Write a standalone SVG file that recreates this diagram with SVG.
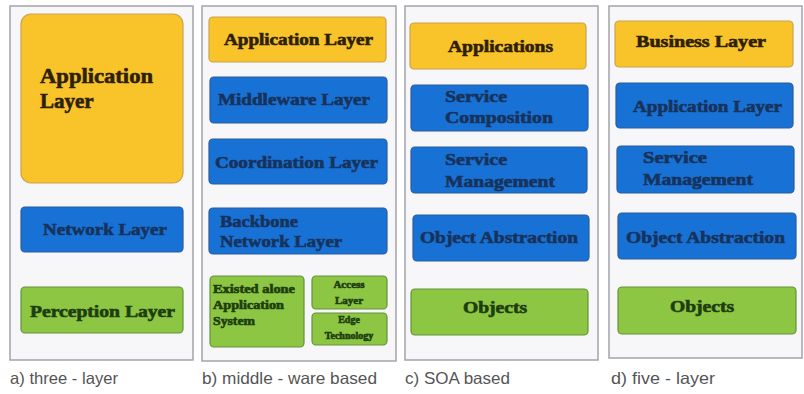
<svg xmlns="http://www.w3.org/2000/svg" width="804" height="394" viewBox="0 0 804 394">
<style>
.frame{fill:#f7f7f9;stroke:#a3a3ab;stroke-width:1.5}
.y{fill:#f9c32a;stroke:#c9a24e;stroke-width:1.2}
.b{fill:#1872d6;stroke:#2a5c9c;stroke-width:1.2}
.g{fill:#8dc642;stroke:#64923c;stroke-width:1.2}
.t{font-family:"Liberation Serif","Times New Roman",serif;font-weight:bold;stroke-width:0.6}
.ty{fill:#2e1f06;stroke:#2e1f06}
.tb{fill:#17335c;stroke:#17335c}
.tg{fill:#1e3e10;stroke:#1e3e10}
.cap{font-family:"Liberation Sans",Arial,sans-serif;font-size:16.5px;fill:#555}
</style>
<rect width="804" height="394" fill="#ffffff"/>
<g id="panel-a">
<rect class="frame" x="10" y="6" width="183" height="354"/>
<g id="a-app"><rect class="y" x="21" y="14" width="162" height="169" rx="10"/>
<text class="t ty" font-size="21" x="40" y="83" textLength="113" lengthAdjust="spacingAndGlyphs">Application</text>
<text class="t ty" font-size="21" x="40" y="108">Layer</text></g>
<g id="a-net"><rect class="b" x="21" y="207" width="162" height="45" rx="4"/>
<text class="t tb" font-size="16" x="43" y="235" textLength="124" lengthAdjust="spacingAndGlyphs">Network Layer</text></g>
<g id="a-per"><rect class="g" x="21" y="287" width="162" height="46" rx="4"/>
<text class="t tg" font-size="16" x="30" y="317" textLength="145" lengthAdjust="spacingAndGlyphs">Perception Layer</text></g>
<text class="cap" x="10" y="384" textLength="108" lengthAdjust="spacingAndGlyphs">a) three - layer</text>
</g>
<g id="panel-b">
<rect class="frame" x="202" y="6" width="194" height="355"/>
<g id="b-app"><rect class="y" x="209" y="17" width="177" height="45" rx="4"/>
<text class="t ty" font-size="16" x="224" y="45" textLength="149" lengthAdjust="spacingAndGlyphs">Application Layer</text></g>
<g id="b-mid"><rect class="b" x="210" y="77" width="177" height="46" rx="4"/>
<text class="t tb" font-size="16" x="218" y="105" textLength="152" lengthAdjust="spacingAndGlyphs">Middleware Layer</text></g>
<g id="b-coord"><rect class="b" x="209" y="139" width="178" height="45" rx="4"/>
<text class="t tb" font-size="16" x="215" y="168" textLength="163" lengthAdjust="spacingAndGlyphs">Coordination Layer</text></g>
<g id="b-back"><rect class="b" x="209" y="208" width="178" height="46" rx="4"/>
<text class="t tb" font-size="16" x="220" y="227" textLength="78" lengthAdjust="spacingAndGlyphs">Backbone</text>
<text class="t tb" font-size="16" x="220" y="247" textLength="122" lengthAdjust="spacingAndGlyphs">Network Layer</text></g>
<g id="b-exist"><rect class="g" x="210" y="276" width="94" height="71" rx="4"/>
<text class="t tg" font-size="12" x="213" y="293" textLength="82" lengthAdjust="spacingAndGlyphs">Existed alone</text>
<text class="t tg" font-size="12" x="213" y="309" textLength="71" lengthAdjust="spacingAndGlyphs">Application</text>
<text class="t tg" font-size="12" x="213" y="325" textLength="42" lengthAdjust="spacingAndGlyphs">System</text></g>
<g id="b-access"><rect class="g" x="312" y="276" width="75" height="33" rx="4"/>
<text class="t tg" font-size="11" x="349" y="288" text-anchor="middle">Access</text>
<text class="t tg" font-size="11" x="349" y="304" text-anchor="middle">Layer</text></g>
<g id="b-edge"><rect class="g" x="312" y="313" width="75" height="32" rx="4"/>
<text class="t tg" font-size="10" x="349" y="323" text-anchor="middle">Edge</text>
<text class="t tg" font-size="10" x="349" y="339" text-anchor="middle">Technology</text></g>
<text class="cap" x="202" y="384" textLength="175" lengthAdjust="spacingAndGlyphs">b) middle - ware based</text>
</g>
<g id="panel-c">
<rect class="frame" x="405" y="6" width="193" height="354"/>
<g id="c-apps"><rect class="y" x="410" y="23" width="176" height="46" rx="4"/>
<text class="t ty" font-size="16" x="448" y="52" textLength="105" lengthAdjust="spacingAndGlyphs">Applications</text></g>
<g id="c-comp"><rect class="b" x="411" y="85" width="177" height="46" rx="4"/>
<text class="t tb" font-size="16" x="445" y="102" textLength="62" lengthAdjust="spacingAndGlyphs">Service</text>
<text class="t tb" font-size="16" x="445" y="123" textLength="108" lengthAdjust="spacingAndGlyphs">Composition</text></g>
<g id="c-mgmt"><rect class="b" x="411" y="147" width="176" height="46" rx="4"/>
<text class="t tb" font-size="16" x="445" y="165" textLength="62" lengthAdjust="spacingAndGlyphs">Service</text>
<text class="t tb" font-size="16" x="445" y="187" textLength="110" lengthAdjust="spacingAndGlyphs">Management</text></g>
<g id="c-abs"><rect class="b" x="413" y="215" width="176" height="46" rx="4"/>
<text class="t tb" font-size="16" x="420" y="243" textLength="158" lengthAdjust="spacingAndGlyphs">Object Abstraction</text></g>
<g id="c-obj"><rect class="g" x="411" y="289" width="177" height="46" rx="4"/>
<text class="t tg" font-size="16" x="463" y="313" textLength="64" lengthAdjust="spacingAndGlyphs">Objects</text></g>
<text class="cap" x="405" y="384" textLength="105" lengthAdjust="spacingAndGlyphs">c) SOA based</text>
</g>
<g id="panel-d">
<rect class="frame" x="609" y="6" width="193" height="352"/>
<g id="d-bus"><rect class="y" x="615" y="21" width="178" height="46" rx="4"/>
<text class="t ty" font-size="16" x="636" y="47" textLength="130" lengthAdjust="spacingAndGlyphs">Business Layer</text></g>
<g id="d-app"><rect class="b" x="616" y="83" width="177" height="45" rx="4"/>
<text class="t tb" font-size="16" x="633" y="112" textLength="149" lengthAdjust="spacingAndGlyphs">Application Layer</text></g>
<g id="d-mgmt"><rect class="b" x="617" y="146" width="177" height="47" rx="4"/>
<text class="t tb" font-size="16" x="643" y="163" textLength="64" lengthAdjust="spacingAndGlyphs">Service</text>
<text class="t tb" font-size="16" x="643" y="185" textLength="110" lengthAdjust="spacingAndGlyphs">Management</text></g>
<g id="d-abs"><rect class="b" x="618" y="213" width="178" height="46" rx="4"/>
<text class="t tb" font-size="16" x="626" y="243" textLength="159" lengthAdjust="spacingAndGlyphs">Object Abstraction</text></g>
<g id="d-obj"><rect class="g" x="618" y="287" width="178" height="47" rx="4"/>
<text class="t tg" font-size="16" x="670" y="312" textLength="64" lengthAdjust="spacingAndGlyphs">Objects</text></g>
<text class="cap" x="611" y="384" textLength="104" lengthAdjust="spacingAndGlyphs">d) five - layer</text>
</g>
<g id="connectors"></g>
</svg>
